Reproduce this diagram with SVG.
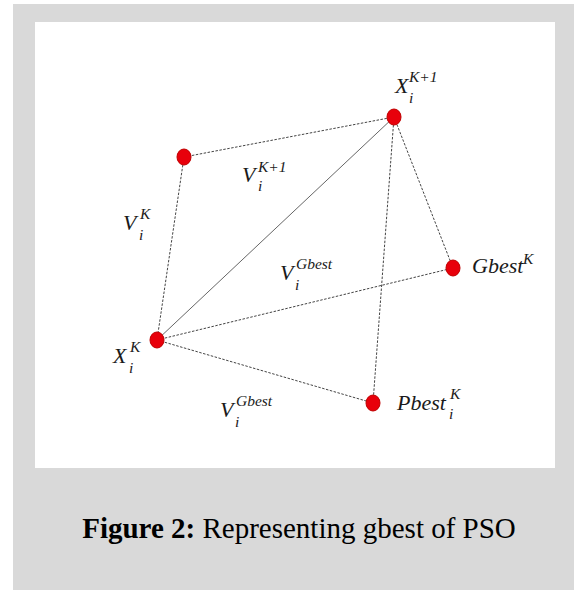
<svg xmlns="http://www.w3.org/2000/svg" width="574" height="590" viewBox="0 0 574 590">
<style>
.m{font-family:"Liberation Serif","DejaVu Serif",serif;font-style:italic;fill:#1a1a1a;}
.b{font-size:22px;}
.s{font-size:15.5px;}
.d{stroke:#444;stroke-width:1;stroke-dasharray:2.5,1.5;fill:none;}
.sol{stroke:#666;stroke-width:1;fill:none;}
.n{fill:#e8000b;stroke:#c00000;stroke-width:1;}
.cap{font-family:"Liberation Serif","Times New Roman",serif;font-size:29px;fill:#000;}
</style>
<rect x="0" y="0" width="574" height="590" fill="#ffffff"/>
<rect x="13" y="4" width="561" height="586" fill="#d9d9d9"/>
<rect x="35" y="22" width="520" height="446" fill="#ffffff"/>
<g id="connectors">
<line class="d" x1="184" y1="157" x2="394" y2="117"/>
<line class="d" x1="184" y1="157" x2="157" y2="340"/>
<line class="sol" x1="157" y1="340" x2="394" y2="117"/>
<line class="d" x1="394" y1="117" x2="453" y2="268"/>
<line class="d" x1="394" y1="117" x2="373" y2="403"/>
<line class="d" x1="157" y1="340" x2="453" y2="268"/>
<line class="d" x1="157" y1="340" x2="373" y2="403"/>
</g>
<g id="node-xk1">
<ellipse class="n" cx="394" cy="117" rx="7" ry="8"/>
<text class="m b" x="395" y="93">X</text><text class="m s" x="409" y="82">K+1</text><text class="m s" x="409" y="103">i</text>
</g>
<g id="node-vk">
<ellipse class="n" cx="184" cy="157" rx="7" ry="8"/>
</g>
<g id="node-gbest">
<ellipse class="n" cx="453" cy="268" rx="7" ry="8"/>
<text class="m b" x="472" y="273">Gbest</text><text class="m s" x="523" y="264">K</text>
</g>
<g id="node-xk">
<ellipse class="n" cx="157" cy="340" rx="7" ry="8"/>
<text class="m b" x="113" y="363">X</text><text class="m s" x="130" y="352">K</text><text class="m s" x="129" y="373">i</text>
</g>
<g id="node-pbest">
<ellipse class="n" cx="373" cy="403" rx="7" ry="8"/>
<text class="m b" x="397" y="410">Pbest</text><text class="m s" x="450" y="399">K</text><text class="m s" x="449" y="419">i</text>
</g>
<g id="labels">
<text class="m b" x="242" y="182">V</text><text class="m s" x="258" y="172">K+1</text><text class="m s" x="258" y="191">i</text>
<text class="m b" x="123" y="230">V</text><text class="m s" x="140" y="219">K</text><text class="m s" x="139" y="240">i</text>
<text class="m b" x="280" y="280">V</text><text class="m s" x="296" y="269">Gbest</text><text class="m s" x="295" y="290">i</text>
<text class="m b" x="220" y="417">V</text><text class="m s" x="236" y="406">Gbest</text><text class="m s" x="235" y="427">i</text>
</g>
<text class="cap" x="299" y="538" text-anchor="middle"><tspan font-weight="bold">Figure 2:</tspan> Representing gbest of PSO</text>
</svg>
